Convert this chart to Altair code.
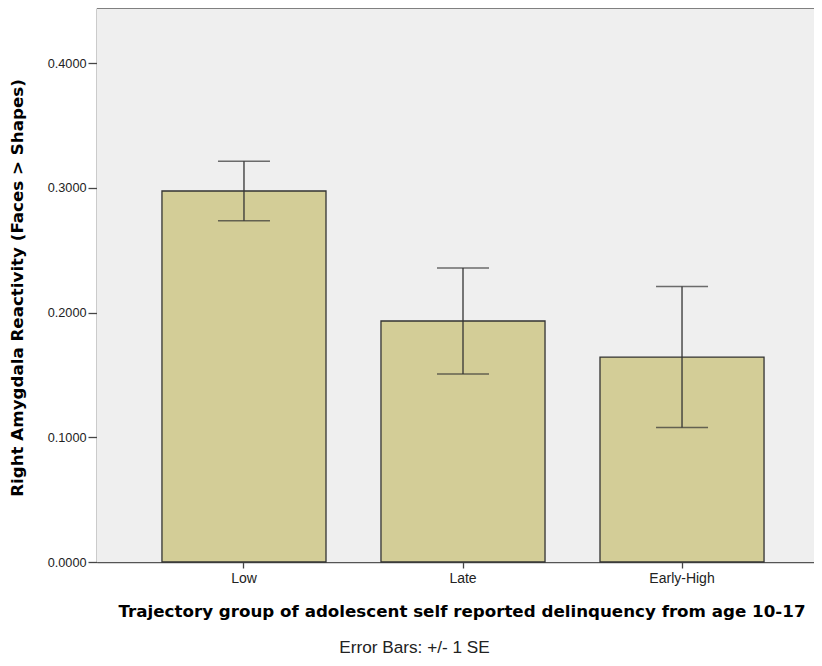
import altair as alt
import pandas as pd

groups = ["Low", "Late", "Early-High"]
means = [0.2974, 0.1932, 0.1643]
ses = [0.0238, 0.0425, 0.0565]

x_title = "Trajectory group of adolescent self reported delinquency from age 10-17"
y_title = "Right Amygdala Reactivity (Faces > Shapes)"
footnote = "Error Bars: +/- 1 SE"

df = pd.DataFrame({
    "group": groups,
    "mean": means,
    "lo": [m - s for m, s in zip(means, ses)],
    "hi": [m + s for m, s in zip(means, ses)],
})

FONT = "Liberation Sans"
TFONT = "DejaVu Sans"
W = 717
H = 554

xscale = alt.Scale(domain=groups, range=[0, 732], paddingInner=0.251, paddingOuter=0.2966)
yscale = alt.Scale(domain=[0, 0.4441], nice=False, zero=True)

x = alt.X("group:N", scale=xscale, sort=groups,
          axis=alt.Axis(title=None,
                        labelAngle=0, labelFontSize=14, labelColor="#222", labelFont=FONT,
                        tickSize=6, tickColor="#444", tickWidth=1.3, labelPadding=3,
                        domainColor="#555", domainWidth=1.6))
y = alt.Y("mean:Q", scale=yscale,
          axis=alt.Axis(title=None,
                        values=[0, 0.1, 0.2, 0.3, 0.4], format=".4f", grid=False,
                        labelFontSize=12.7, labelColor="#222", labelFont=FONT,
                        tickSize=9, tickColor="#444", tickWidth=1.3, labelPadding=2,
                        domainColor="#555", domainWidth=1.6))

base = alt.Chart(df)
one = pd.DataFrame({"v": [0]})

bg = alt.Chart(one).mark_rect(fill="#efefef").encode(
    x=alt.value(0), x2=alt.value(W), y=alt.value(0), y2=alt.value(H)
)

bars = base.mark_bar(fill="#d3cd97", stroke="#333333", strokeWidth=1.3).encode(x=x, y=y)

err = base.mark_rule(color="#333333", strokeWidth=1.3).encode(
    x=alt.X("group:N", scale=xscale, sort=groups),
    y=alt.Y("lo:Q", scale=yscale),
    y2="hi:Q",
)
cap_hi = base.mark_tick(color="#333333", size=52, thickness=1.4, orient="horizontal").encode(
    x=alt.X("group:N", scale=xscale, sort=groups),
    y=alt.Y("hi:Q", scale=yscale),
)
cap_lo = base.mark_tick(color="#333333", size=52, thickness=1.4, orient="horizontal").encode(
    x=alt.X("group:N", scale=xscale, sort=groups),
    y=alt.Y("lo:Q", scale=yscale),
)
top = alt.Chart(one).mark_rule(color="#808080", strokeWidth=2).encode(
    x=alt.value(0), x2=alt.value(W), y=alt.value(0)
)

xt = alt.Chart(pd.DataFrame({"t": [x_title]})).mark_text(
    font=TFONT, fontSize=16.7, fontWeight="bold", color="#000", align="center", baseline="middle"
).encode(text="t:N", x=alt.value(365), y=alt.value(604))

yt = alt.Chart(pd.DataFrame({"t": [y_title]})).mark_text(
    font=TFONT, fontSize=16.7, fontWeight="bold", color="#000", align="center", baseline="middle", angle=270
).encode(text="t:N", x=alt.value(-79), y=alt.value(280))

fn = alt.Chart(pd.DataFrame({"t": [footnote]})).mark_text(
    font=FONT, fontSize=17.2, color="#222", align="center", baseline="alphabetic"
).encode(text="t:N", x=alt.value(317.5), y=alt.value(645))

chart = alt.layer(bg, bars, err, cap_hi, cap_lo, top, xt, yt, fn).properties(
    width=W, height=H,
    autosize=alt.AutoSizeParams(type="none"),
    padding={"left": 89, "top": 0, "right": 0, "bottom": 96},
).configure_view(stroke=None).configure(background="white")

chart.save("out.html", embed_options={"renderer": "svg", "actions": False})
